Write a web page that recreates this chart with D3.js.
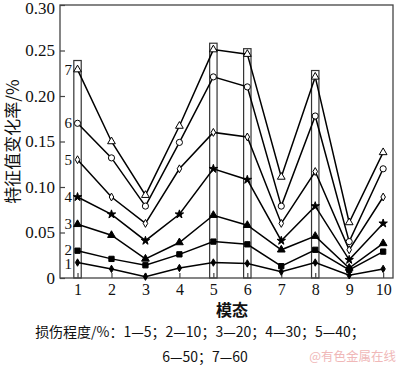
<!DOCTYPE html>
<html><head><meta charset="utf-8">
<script src="https://cdn.jsdelivr.net/npm/d3@7"></script>
<style>body{margin:0;background:#fff}svg{display:block}</style>
</head><body>
<svg id="c" width="400" height="365"></svg>
<script>
const modes = [1,2,3,4,5,6,7,8,9,10];
const s1 = [0.017,0.010,0.0015,0.011,0.017,0.016,0.007,0.017,0.003,0.010];
const s2 = [0.030,0.021,0.014,0.026,0.040,0.037,0.013,0.031,0.009,0.029];
const s3 = [0.059,0.047,0.021,0.039,0.069,0.058,0.031,0.046,0.011,0.038];
const s4 = [0.089,0.070,0.041,0.070,0.120,0.108,0.041,0.079,0.020,0.060];
const s5 = [0.130,0.089,0.060,0.120,0.160,0.155,0.060,0.117,0.031,0.089];
const s6 = [0.170,0.132,0.079,0.149,0.221,0.210,0.079,0.178,0.040,0.120];
const s7 = [0.229,0.150,0.091,0.167,0.251,0.246,0.111,0.221,0.061,0.138];
const seriesNames = ["1","2","3","4","5","6","7"];
const boxModes = [1,5,6,8];
const boxTops = [0.239,0.258,0.252,0.228];
const yTicks = [0,0.05,0.10,0.15,0.20,0.25,0.30];
const yTickLabels = ["0","0.05","0.10","0.15","0.20","0.25","0.30"];
const yTitle = "特征值变化率/%";
const xTitle = "模态";
const caption1 = "损伤程度/%：1—5；2—10；3—20；4—30；5—40；";
const caption2 = "6—50；7—60";
const watermark = "@有色金属在线";

const series = [s1,s2,s3,s4,s5,s6,s7];
const markers = [
  {type:d3.symbolDiamond, size:16, fill:"#000"},
  {type:d3.symbolSquare, size:28, fill:"#000"},
  {type:d3.symbolTriangle, size:26, fill:"#000"},
  {type:d3.symbolStar, size:22, fill:"#000"},
  {type:d3.symbolDiamond, size:18, fill:"#fff"},
  {type:d3.symbolCircle, size:30, fill:"#fff"},
  {type:d3.symbolTriangle, size:26, fill:"#fff"}
];

const svg = d3.select("#c");
const L=60, R=393, T=5, B=278;
const x = d3.scaleLinear().domain([0.484,10.29]).range([L,R]);
const y = d3.scaleLinear().domain([0,0.30]).range([B,T]);
const serif = "'Liberation Serif','DejaVu Serif',serif";
const cjk = "'Noto Sans CJK SC',sans-serif";

// boxes
svg.selectAll("rect.box").data(boxModes).enter().append("rect")
  .attr("x", d=>x(d)-3.7).attr("width",7.4)
  .attr("y",(d,i)=>y(boxTops[i])).attr("height",(d,i)=>y(0)-y(boxTops[i]))
  .attr("fill","none").attr("stroke","#333").attr("stroke-width",1.2);

// frame
svg.append("rect").attr("x",L).attr("y",T).attr("width",R-L).attr("height",B-T)
  .attr("fill","none").attr("stroke","#444").attr("stroke-width",1.3);

// axes
const yAxis = d3.axisLeft(y).tickValues(yTicks).tickFormat((d,i)=>yTickLabels[i]).tickSizeInner(-5).tickSizeOuter(0).tickPadding(5);
const gy = svg.append("g").attr("transform",`translate(${L},0)`).call(yAxis);
gy.select(".domain").remove();
gy.selectAll("line").attr("stroke","#444").attr("stroke-width",1.2);
gy.selectAll("text").attr("font-family",serif).attr("font-size",17).attr("fill","#111")
  .attr("dy",(d,i)=> i===yTicks.length-1 ? "0.5em" : "0.32em");

const xAxis = d3.axisBottom(x).tickValues(modes).tickFormat(d3.format("d")).tickSizeInner(-5).tickSizeOuter(0).tickPadding(6);
const gx = svg.append("g").attr("transform",`translate(0,${B})`).call(xAxis);
gx.select(".domain").remove();
gx.selectAll("line").attr("stroke","#444").attr("stroke-width",1.2);
gx.selectAll("text").attr("font-family",serif).attr("font-size",16).attr("fill","#111");

// lines
const line = d3.line().x((d,i)=>x(modes[i])).y(d=>y(d));
series.forEach((s,k)=>{
  svg.append("path").datum(s).attr("d",line).attr("fill","none")
    .attr("stroke","#000").attr("stroke-width",1.5);
});
series.forEach((s,k)=>{
  const m = markers[k];
  svg.selectAll(null).data(s).enter().append("path")
    .attr("d", d3.symbol().type(m.type).size(m.size))
    .attr("transform",(d,i)=>`translate(${x(modes[i])},${y(d)})`)
    .attr("fill",m.fill).attr("stroke","#000").attr("stroke-width",1);
});

// series labels at mode 1
const nudge = [1.5,-1,0,0,0,0,0];
svg.selectAll("text.sl").data(series).enter().append("text")
  .attr("x", x(1)-5.5).attr("y",(s,k)=>y(s[0])+5+nudge[k])
  .attr("text-anchor","end").attr("font-family",serif).attr("font-size",15).attr("fill","#111")
  .text((s,k)=>seriesNames[k]);

// titles
svg.append("text").attr("transform",`translate(19,${(T+B)/2}) rotate(-90)`)
  .attr("text-anchor","middle").attr("font-family",cjk).attr("font-size",17).attr("fill","#111").text(yTitle);
svg.append("text").attr("x",232).attr("y",315.5).attr("text-anchor","middle")
  .attr("font-family",cjk).attr("font-size",16).attr("font-weight","bold").attr("fill","#111").text(xTitle);
svg.append("text").attr("x",200).attr("y",337).attr("text-anchor","middle")
  .attr("font-family",cjk).attr("font-size",14).attr("fill","#111").text(caption1);
svg.append("text").attr("x",205).attr("y",362).attr("text-anchor","middle")
  .attr("font-family",cjk).attr("font-size",14).attr("fill","#111").text(caption2);
svg.append("text").attr("x",396).attr("y",361).attr("text-anchor","end")
  .attr("font-family",cjk).attr("font-size",12.5).attr("fill","#f0b8b8").text(watermark);
</script>
</body></html>
